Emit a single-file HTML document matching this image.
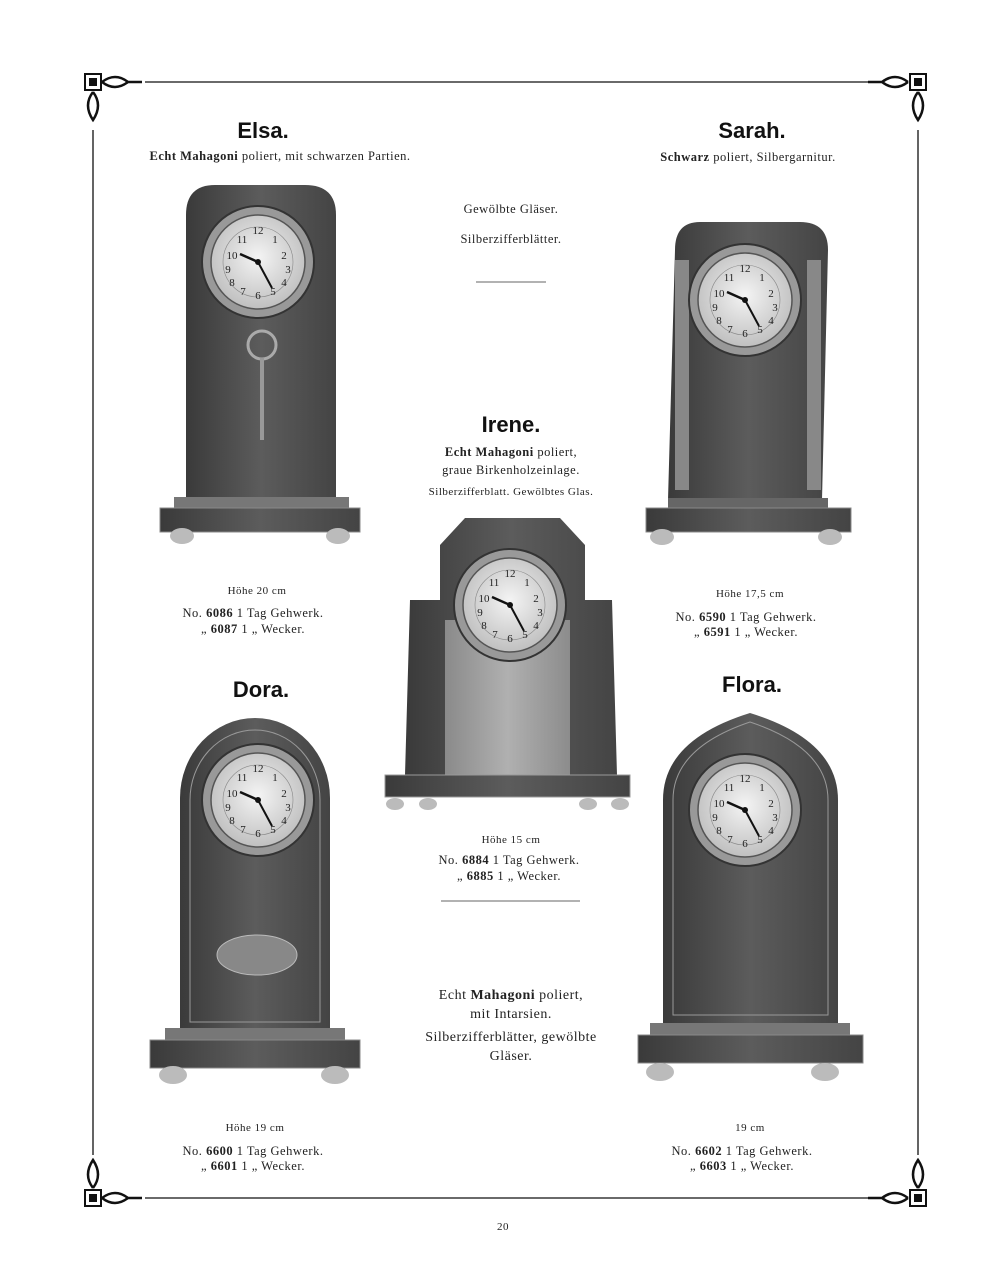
<!DOCTYPE html>
<html><head><meta charset="utf-8"><style>
body{margin:0;background:#fff;}
svg{display:block}
.t{font-family:"Liberation Sans",sans-serif;font-size:22px;font-weight:bold;fill:#111;text-anchor:middle}
.s{font-family:"Liberation Serif",serif;font-size:12.5px;fill:#222;text-anchor:middle;letter-spacing:0.5px}
.b{font-weight:bold}
</style></head><body>
<svg width="1005" height="1280" viewBox="0 0 1005 1280" xmlns="http://www.w3.org/2000/svg">
<defs>
<radialGradient id="face" cx="50%" cy="45%" r="60%"><stop offset="0" stop-color="#f4f4f4"/><stop offset="1" stop-color="#bbb"/></radialGradient>
<linearGradient id="wood" x1="0" x2="1"><stop offset="0" stop-color="#3a3a3a"/><stop offset=".5" stop-color="#5c5c5c"/><stop offset="1" stop-color="#444"/></linearGradient>
<linearGradient id="lite" x1="0" x2="1"><stop offset="0" stop-color="#8a8a8a"/><stop offset=".5" stop-color="#b0b0b0"/><stop offset="1" stop-color="#8c8c8c"/></linearGradient>
<g id="dial">
<circle r="56" fill="#999" stroke="#333" stroke-width="2"/>
<circle r="47" fill="url(#face)" stroke="#555" stroke-width="1.5"/>
<circle r="35" fill="none" stroke="#888" stroke-width="0.6"/>
<g font-family="Liberation Serif" font-size="11" fill="#222" text-anchor="middle">
<text x="0" y="-28">12</text><text x="17" y="-19">1</text><text x="26" y="-3">2</text><text x="30" y="11">3</text><text x="26" y="24">4</text><text x="15" y="33">5</text><text x="0" y="37">6</text><text x="-15" y="33">7</text><text x="-26" y="24">8</text><text x="-30" y="11">9</text><text x="-26" y="-3">10</text><text x="-16" y="-19">11</text></g>
<line x1="0" y1="0" x2="-18" y2="-8" stroke="#111" stroke-width="2.5"/>
<line x1="0" y1="0" x2="14" y2="26" stroke="#111" stroke-width="2"/>
<circle r="3" fill="#111"/>
</g>
<g id="orn">
<rect x="-8" y="-8" width="16" height="16" fill="none" stroke="#111" stroke-width="2"/>
<rect x="-4" y="-4" width="8" height="8" fill="#111"/>
</g>
</defs>
<g stroke="#111" stroke-width="1.3" fill="none">
<line x1="145" y1="82" x2="870" y2="82"/><line x1="145" y1="1198" x2="870" y2="1198"/>
<line x1="93" y1="130" x2="93" y2="1155"/><line x1="918" y1="130" x2="918" y2="1155"/>
<path d="M102 82 Q115 72 128 82 Q115 92 102 82 M128 82 L142 82" stroke-width="2.5"/>
<path d="M908 82 Q895 72 882 82 Q895 92 908 82 M882 82 L868 82" stroke-width="2.5"/>
<path d="M102 1198 Q115 1188 128 1198 Q115 1208 102 1198 M128 1198 L142 1198" stroke-width="2.5"/>
<path d="M908 1198 Q895 1188 882 1198 Q895 1208 908 1198 M882 1198 L868 1198" stroke-width="2.5"/>
<path d="M93 92 Q83 105 93 120 Q103 105 93 92" stroke-width="2.5"/>
<path d="M918 92 Q908 105 918 120 Q928 105 918 92" stroke-width="2.5"/>
<path d="M93 1188 Q83 1175 93 1160 Q103 1175 93 1188" stroke-width="2.5"/>
<path d="M918 1188 Q908 1175 918 1160 Q928 1175 918 1188" stroke-width="2.5"/>
</g>
<use href="#orn" x="93" y="82"/><use href="#orn" x="918" y="82"/><use href="#orn" x="93" y="1198"/><use href="#orn" x="918" y="1198"/>
<text class="t" x="263" y="138">Elsa.</text>
<text class="s" x="280" y="160"><tspan class="b">Echt Mahagoni</tspan> poliert, mit schwarzen Partien.</text>
<text class="t" x="752" y="138">Sarah.</text>
<text class="s" x="748" y="161"><tspan class="b">Schwarz</tspan> poliert, Silbergarnitur.</text>
<text class="s" x="511" y="213">Gewölbte Gläser.</text>
<text class="s" x="511" y="243">Silberzifferblätter.</text>
<line x1="476" y1="282" x2="546" y2="282" stroke="#666"/>
<text class="t" x="511" y="432">Irene.</text>
<text class="s" x="511" y="456"><tspan class="b">Echt Mahagoni</tspan> poliert,</text>
<text class="s" x="511" y="474">graue Birkenholzeinlage.</text>
<text class="s" x="511" y="495" style="font-size:11px">Silberzifferblatt.  Gewölbtes Glas.</text>
<text class="s" x="257" y="594" style="font-size:11px">Höhe 20 cm</text>
<text class="s" x="253" y="617">No. <tspan class="b">6086</tspan>  1 Tag Gehwerk.</text>
<text class="s" x="253" y="633">„  <tspan class="b">6087</tspan>  1  „  Wecker.</text>
<text class="s" x="750" y="597" style="font-size:11px">Höhe 17,5 cm</text>
<text class="s" x="746" y="621">No. <tspan class="b">6590</tspan>  1 Tag Gehwerk.</text>
<text class="s" x="746" y="636">„  <tspan class="b">6591</tspan>  1  „  Wecker.</text>
<text class="t" x="261" y="697">Dora.</text>
<text class="t" x="752" y="692">Flora.</text>
<text class="s" x="511" y="843" style="font-size:11px">Höhe 15 cm</text>
<text class="s" x="509" y="864">No. <tspan class="b">6884</tspan>  1 Tag Gehwerk.</text>
<text class="s" x="509" y="880">„  <tspan class="b">6885</tspan>  1  „  Wecker.</text>
<line x1="441" y1="901" x2="580" y2="901" stroke="#666"/>
<text class="s" x="511" y="999" style="font-size:14px"><tspan>Echt </tspan><tspan class="b">Mahagoni</tspan> poliert,</text>
<text class="s" x="511" y="1018" style="font-size:14px">mit Intarsien.</text>
<text class="s" x="511" y="1041" style="font-size:14px">Silberzifferblätter, gewölbte</text>
<text class="s" x="511" y="1060" style="font-size:14px">Gläser.</text>
<text class="s" x="255" y="1131" style="font-size:11px">Höhe 19 cm</text>
<text class="s" x="253" y="1155">No. <tspan class="b">6600</tspan>  1 Tag Gehwerk.</text>
<text class="s" x="253" y="1170">„  <tspan class="b">6601</tspan>  1  „  Wecker.</text>
<text class="s" x="750" y="1131" style="font-size:11px">19 cm</text>
<text class="s" x="742" y="1155">No. <tspan class="b">6602</tspan>  1 Tag Gehwerk.</text>
<text class="s" x="742" y="1170">„  <tspan class="b">6603</tspan>  1  „  Wecker.</text>
<text class="s" x="503" y="1230" style="font-size:11px">20</text>
<path d="M186 500 L186 215 Q186 185 215 185 L305 185 Q336 185 336 215 L336 500Z" fill="url(#wood)"/>
<rect x="174" y="497" width="175" height="12" fill="#777"/>
<rect x="160" y="508" width="200" height="24" fill="url(#wood)" stroke="#888"/>
<ellipse cx="182" cy="536" rx="12" ry="8" fill="#bbb"/><ellipse cx="338" cy="536" rx="12" ry="8" fill="#bbb"/>
<use href="#dial" x="258" y="262"/>
<circle cx="262" cy="345" r="14" fill="none" stroke="#aaa" stroke-width="3"/>
<line x1="262" y1="358" x2="262" y2="440" stroke="#999" stroke-width="4"/>
<path d="M668 500 L675 250 Q675 222 700 222 L800 222 Q828 222 828 250 L822 500Z" fill="url(#wood)"/>
<rect x="675" y="260" width="14" height="230" fill="#888"/><rect x="807" y="260" width="14" height="230" fill="#888"/>
<rect x="668" y="498" width="160" height="12" fill="#666"/>
<rect x="646" y="508" width="205" height="24" fill="url(#wood)" stroke="#888"/>
<ellipse cx="662" cy="537" rx="12" ry="8" fill="#bbb"/><ellipse cx="830" cy="537" rx="12" ry="8" fill="#bbb"/>
<use href="#dial" x="745" y="300"/>
<path d="M405 775 L410 600 L440 600 L440 545 L465 518 L560 518 L585 545 L585 600 L612 600 L617 775Z" fill="url(#wood)"/>
<rect x="445" y="620" width="125" height="155" fill="url(#lite)"/>
<rect x="385" y="775" width="245" height="22" fill="url(#wood)" stroke="#999"/>
<ellipse cx="395" cy="804" rx="9" ry="6" fill="#bbb"/><ellipse cx="428" cy="804" rx="9" ry="6" fill="#bbb"/><ellipse cx="588" cy="804" rx="9" ry="6" fill="#bbb"/><ellipse cx="620" cy="804" rx="9" ry="6" fill="#bbb"/>
<use href="#dial" x="510" y="605"/>
<path d="M180 1030 L180 798 A75 80 0 0 1 330 798 L330 1030Z" fill="url(#wood)"/>
<path d="M190 1022 L190 800 A65 70 0 0 1 320 800 L320 1022Z" fill="none" stroke="#999"/>
<ellipse cx="257" cy="955" rx="40" ry="20" fill="#888" stroke="#bbb"/>
<rect x="165" y="1028" width="180" height="12" fill="#777"/>
<rect x="150" y="1040" width="210" height="28" fill="url(#wood)" stroke="#888"/>
<ellipse cx="173" cy="1075" rx="14" ry="9" fill="#bbb"/><ellipse cx="335" cy="1075" rx="14" ry="9" fill="#bbb"/>
<use href="#dial" x="258" y="800"/>
<path d="M663 1025 L663 800 Q663 740 750 713 Q838 740 838 800 L838 1025Z" fill="url(#wood)"/>
<path d="M673 1015 L673 800 Q673 748 750 722 Q828 748 828 800 L828 1015Z" fill="none" stroke="#999"/>
<rect x="650" y="1023" width="200" height="12" fill="#777"/>
<rect x="638" y="1035" width="225" height="28" fill="url(#wood)" stroke="#888"/>
<ellipse cx="660" cy="1072" rx="14" ry="9" fill="#bbb"/><ellipse cx="825" cy="1072" rx="14" ry="9" fill="#bbb"/>
<use href="#dial" x="745" y="810"/>
</svg>
</body></html>
